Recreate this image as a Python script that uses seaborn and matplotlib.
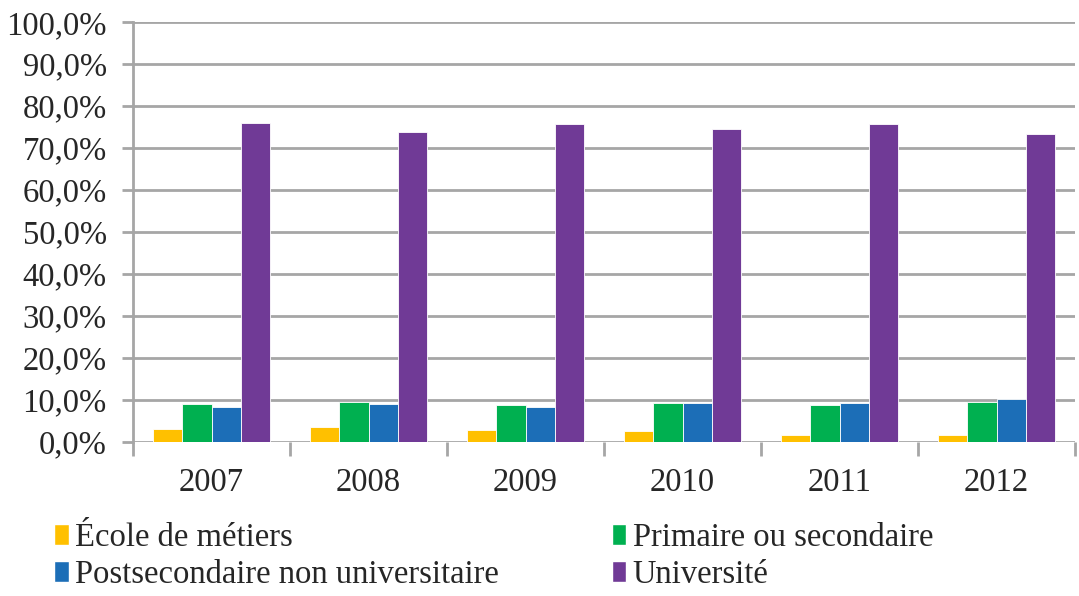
import numpy as np
import pandas as pd
import matplotlib
matplotlib.use("Agg")
import matplotlib.pyplot as plt
from matplotlib.patches import Patch
from matplotlib.ticker import FuncFormatter, FixedLocator
import seaborn as sns

# data
years = ['2007', '2008', '2009', '2010', '2011', '2012']
ecole_metiers = [3.1, 3.4, 2.8, 2.4, 1.6, 1.5]
primaire_secondaire = [8.9, 9.4, 8.8, 9.1, 8.6, 9.4]
postsecondaire = [8.2, 8.9, 8.2, 9.2, 9.1, 10.1]
universite = [76.0, 73.8, 75.8, 74.5, 75.8, 73.4]

categories = ['École de métiers', 'Primaire ou secondaire',
              'Postsecondaire non universitaire', 'Université']
colors = ['#FFC000', '#00B050', '#1C6EB7', '#703A96']

df = pd.DataFrame({'year': years * 4,
                   'cat': np.repeat(categories, len(years)),
                   'value': ecole_metiers + primaire_secondaire + postsecondaire + universite})

sns.set_style('white')
plt.rcParams['font.family'] = ['Liberation Serif', 'DejaVu Serif']

fig = plt.figure(figsize=(10.79, 5.96), dpi=100)
ax = fig.add_axes([0.1233, 0.2592, 0.8730, 0.7038])

sns.barplot(data=df, x='year', y='value', hue='cat', hue_order=categories,
            palette=colors, width=0.74, ax=ax, legend=False,
            edgecolor='white', linewidth=0.6, saturation=1)

ax.set_ylim(0, 100)
ax.set_xlim(-0.5, 5.5)
ax.set_yticks(np.arange(0, 101, 10))
ax.yaxis.set_major_formatter(FuncFormatter(lambda v, p: f"{v:.1f}%".replace('.', ',')))
ax.yaxis.grid(True, color='#A6A6A6', linewidth=2)
ax.set_axisbelow(True)
for s in ['top', 'right', 'bottom']:
    ax.spines[s].set_visible(False)
ax.spines['left'].set_color('#A6A6A6')
ax.spines['left'].set_linewidth(2)

ax.tick_params(axis='y', which='major', length=8, width=2, color='#A6A6A6',
               labelsize=23.5, pad=11, direction='out', left=True)
ax.tick_params(axis='x', which='major', length=0, labelsize=23.5, pad=19)
ax.xaxis.set_minor_locator(FixedLocator(np.arange(-0.5, 6, 1)))
ax.tick_params(axis='x', which='minor', length=10, width=2, color='#A6A6A6',
               direction='out', bottom=True)
ax.set_xlabel('')
ax.set_ylabel('')

handles = [Patch(facecolor=c, label=l) for c, l in zip(colors, categories)]
order = [0, 2, 1, 3]
fig.legend([handles[i] for i in order], [categories[i] for i in order],
           loc='upper left', bbox_to_anchor=(0.050, 0.124), ncol=2,
           frameon=False, fontsize=23.5, handlelength=0.45, handleheight=0.62,
           handletextpad=0.2, columnspacing=3.45, labelspacing=0.2,
           borderpad=0, borderaxespad=0)

plt.savefig('out.png', dpi=100)
